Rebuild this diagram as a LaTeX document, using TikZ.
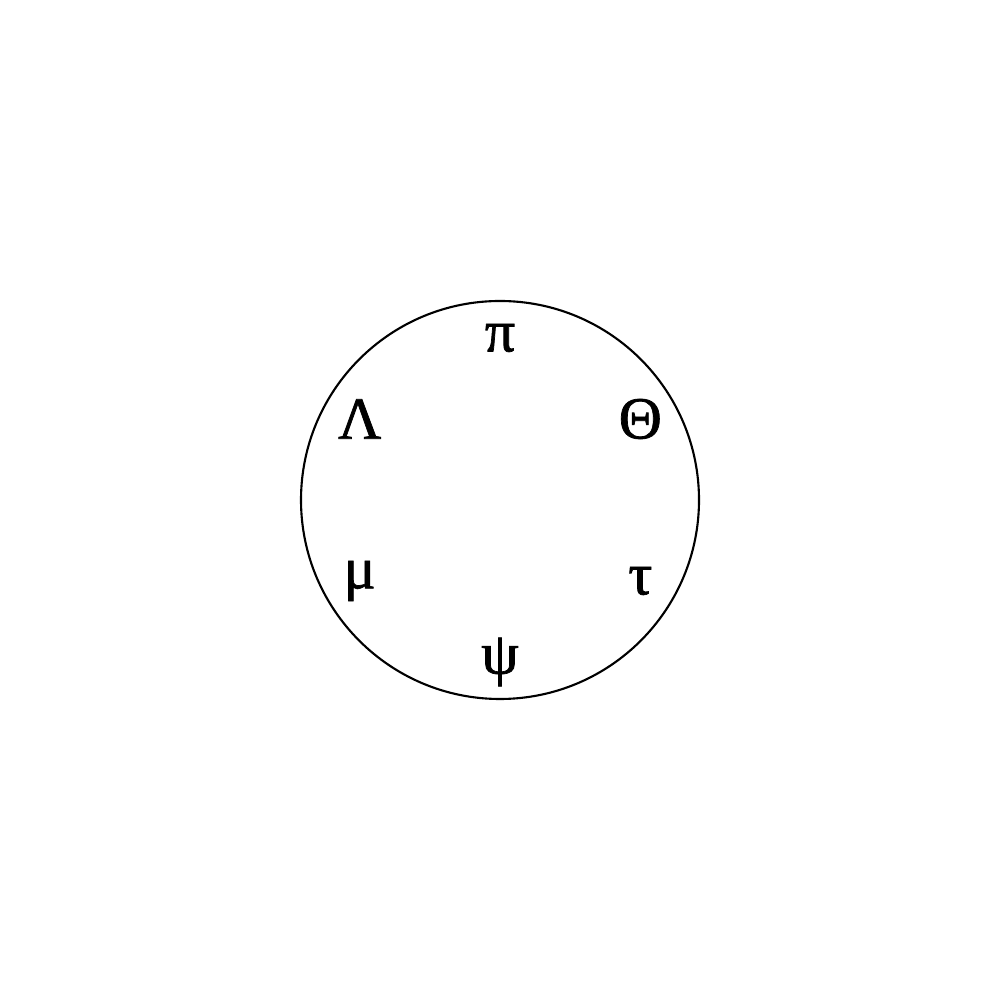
\documentclass[tikz,border=0pt]{standalone}
\usepackage{fontspec}
\setmainfont{Liberation Serif}
\newfontfamily\greekfont{Liberation Serif}[FakeBold=1.2]
\usetikzlibrary{positioning}

\begin{document}
\begin{tikzpicture}[
    letter/.style={inner sep=0pt, font=\greekfont\fontsize{17}{20}\selectfont},
    ring/.style={draw, circle, line width=0.6pt, minimum size=3.98cm, inner sep=0pt}]
    \useasboundingbox (-5,-5) rectangle (5,5);
    % Outer circle
    \node[ring] (rim) at (0,0) {};
    % Letters around the circle
    \foreach \ang/\sym/\nm in {90/π/pi, 30/Θ/theta, -30/τ/tau, -90/ψ/psi, 210/μ/mu, 150/Λ/lambda}
        \node[letter] (\nm) at (\ang:1.62) {\sym};
\end{tikzpicture}
\end{document}
